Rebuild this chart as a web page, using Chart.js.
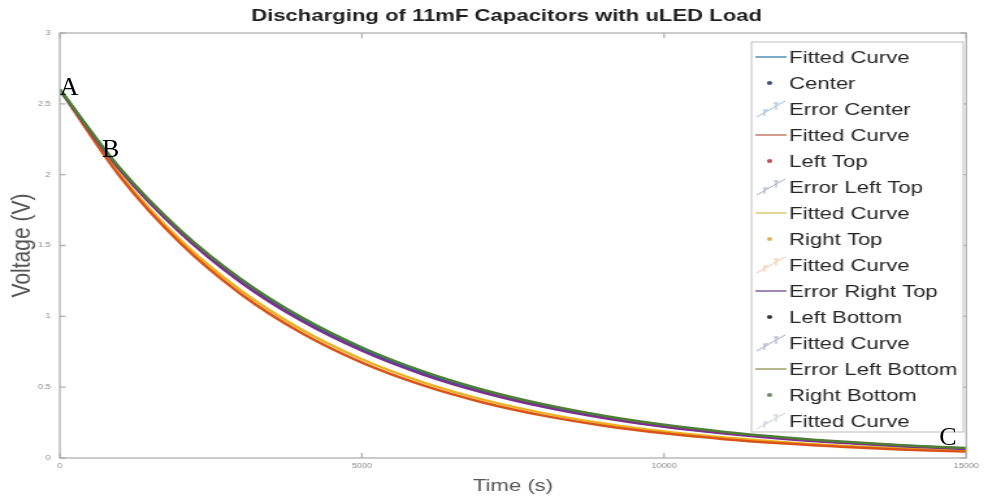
<!DOCTYPE html>
<html>
<head>
<meta charset="utf-8">
<script src="https://cdn.jsdelivr.net/npm/chart.js@4.4.0/dist/chart.umd.min.js"></script>
<style>
  html, body { margin: 0; padding: 0; background: #fff; }
  body { width: 984px; height: 501px; position: relative; overflow: hidden; }
  /* the source figure is stretched sideways, so draw narrow and stretch */
  #wrap { position: absolute; left: 0; top: 0; width: 757px; height: 501px; transform: scaleX(1.3); transform-origin: 0 0; }
  .mark { position: absolute; font-family: "Liberation Serif", "Times New Roman", serif; font-size: 26px; line-height: 1; color: #000; }
</style>
</head>
<body>
<div id="wrap"><canvas id="chart"></canvas></div>
<script>
const STRETCH = 1.3;

const chartTitle = 'Discharging of 11mF Capacitors with uLED Load';

// time in seconds, voltage in volts
const timeSec = [0, 1000, 2000, 3000, 4000, 5000, 6000, 7000, 8000, 9000, 10000, 11000, 12000, 13000, 14000, 15000];
const centerVolts      = [2.60, 2.037, 1.597, 1.251, 0.980, 0.768, 0.602, 0.472, 0.370, 0.290, 0.227, 0.178, 0.139, 0.109, 0.086, 0.067];
const leftTopVolts     = [2.60, 1.984, 1.514, 1.156, 0.882, 0.673, 0.514, 0.392, 0.299, 0.228, 0.174, 0.133, 0.102, 0.078, 0.059, 0.045];
const rightTopVolts    = [2.60, 1.998, 1.536, 1.181, 0.907, 0.697, 0.536, 0.412, 0.317, 0.243, 0.187, 0.144, 0.111, 0.085, 0.065, 0.050];
const leftBottomVolts  = [2.60, 2.031, 1.587, 1.239, 0.968, 0.757, 0.591, 0.462, 0.361, 0.282, 0.220, 0.172, 0.134, 0.105, 0.082, 0.064];
const rightBottomVolts = [2.60, 2.044, 1.606, 1.263, 0.993, 0.780, 0.613, 0.482, 0.379, 0.298, 0.234, 0.184, 0.145, 0.114, 0.089, 0.070];

// legend as it appears in the figure
const legendLabels = ['Fitted Curve', 'Center', 'Error Center', 'Fitted Curve', 'Left Top', 'Error Left Top',
  'Fitted Curve', 'Right Top', 'Fitted Curve', 'Error Right Top', 'Left Bottom', 'Fitted Curve',
  'Error Left Bottom', 'Right Bottom', 'Fitted Curve'];
const legendKinds = ['line', 'dot', 'err', 'line', 'dot', 'err', 'line', 'dot', 'err', 'line', 'dot', 'err', 'line', 'dot', 'err'];
const legendColors = ['#5d93b8', '#34506e', '#9dbdd6', '#c98470', '#c0504d', '#a9aec4', '#e3cf78', '#d9b650',
  '#f0c9a4', '#8a6aa8', '#333333', '#a3abc4', '#a6a472', '#6d8a5e', '#c9cdd8'];

// A, B, C annotations
const markText = ['A', 'B', 'C'];
const markTime = [0, 700, 15000];
const markVolt = [2.60, 2.17, 0.07];
const markShift = [[0, -16], [0, -15], [-27, -24]];

const markEls = markText.map(txt => {
  const el = document.createElement('span');
  el.className = 'mark';
  el.textContent = txt;
  document.body.appendChild(el);
  return el;
});

function toPoints(values) {
  return timeSec.map((t, i) => ({ x: t, y: values[i] }));
}

function series(label, values, color) {
  return {
    label: label,
    data: toPoints(values),
    borderColor: color,
    borderWidth: 2.5,
    pointRadius: 0,
    fill: false,
    cubicInterpolationMode: 'monotone'
  };
}

const boxPlugin = {
  id: 'boxPlugin',
  afterDraw(chart) {
    const ctx = chart.ctx;
    const a = chart.chartArea;
    const xs = chart.scales.x;
    const ys = chart.scales.y;

    // axes frame + inward ticks
    ctx.save();
    ctx.strokeStyle = '#b0b0b0';
    ctx.lineWidth = 1.3;
    ctx.strokeRect(a.left, a.top, a.right - a.left, a.bottom - a.top);
    ctx.beginPath();
    xs.ticks.forEach(t => {
      const px = xs.getPixelForValue(t.value);
      ctx.moveTo(px, a.bottom); ctx.lineTo(px, a.bottom - 5);
      ctx.moveTo(px, a.top); ctx.lineTo(px, a.top + 5);
    });
    ys.ticks.forEach(t => {
      const py = ys.getPixelForValue(t.value);
      ctx.moveTo(a.left, py); ctx.lineTo(a.left + 4.5, py);
      ctx.moveTo(a.right, py); ctx.lineTo(a.right - 4.5, py);
    });
    ctx.stroke();

    // title
    ctx.fillStyle = '#1e1e1e';
    ctx.font = 'bold 17px "Liberation Sans", Arial, sans-serif';
    ctx.textAlign = 'center';
    ctx.textBaseline = 'middle';
    ctx.fillText(chartTitle, (a.left + a.right) / 2 - 5, 16);

    // legend box
    const bx = 578, by = 42, bw = 163, bh = 390;
    ctx.fillStyle = '#fff';
    ctx.fillRect(bx, by, bw, bh);
    ctx.strokeStyle = '#bdbdbd';
    ctx.lineWidth = 1;
    ctx.strokeRect(bx, by, bw, bh);

    ctx.font = '17px "Liberation Sans", Arial, sans-serif';
    ctx.textAlign = 'left';
    legendLabels.forEach((label, i) => {
      const cy = by + 15 + i * 26;
      const col = legendColors[i];
      ctx.strokeStyle = col;
      ctx.fillStyle = col;
      if (legendKinds[i] === 'line') {
        ctx.lineWidth = 1.6;
        ctx.beginPath();
        ctx.moveTo(581, cy); ctx.lineTo(605, cy);
        ctx.stroke();
      } else if (legendKinds[i] === 'dot') {
        ctx.beginPath();
        ctx.arc(592, cy, 2, 0, Math.PI * 2);
        ctx.fill();
      } else {
        ctx.lineWidth = 1;
        ctx.beginPath();
        ctx.moveTo(582, cy + 8);
        ctx.lineTo(589, cy + 3);
        ctx.lineTo(597, cy - 3);
        ctx.lineTo(604, cy - 8);
        ctx.moveTo(587, cy + 1); ctx.lineTo(591, cy + 1);
        ctx.moveTo(588, cy + 1); ctx.lineTo(588, cy + 7);
        ctx.moveTo(595, cy - 6); ctx.lineTo(599, cy - 6);
        ctx.moveTo(597, cy - 6); ctx.lineTo(597, cy + 1);
        ctx.stroke();
      }
      ctx.fillStyle = '#262626';
      ctx.textBaseline = 'middle';
      ctx.fillText(label, 607, cy + 1);
    });
    ctx.restore();

    // A/B/C letters are not stretched in the source, keep them as html on top
    markEls.forEach((el, i) => {
      const px = xs.getPixelForValue(markTime[i]) * STRETCH;
      const py = ys.getPixelForValue(markVolt[i]);
      el.style.left = (px + markShift[i][0]) + 'px';
      el.style.top = (py + markShift[i][1]) + 'px';
    });
  }
};

const tickFont = { family: '"Liberation Sans", Arial, sans-serif', size: 7 };
const titleFont = { family: '"Liberation Sans", Arial, sans-serif', size: 17 };

const chart = new Chart(document.getElementById('chart'), {
  type: 'line',
  data: {
    datasets: [
      series('Right Bottom', rightBottomVolts, '#4f7d35'),
      series('Left Bottom', leftBottomVolts, '#7E2F8E'),
      series('Center', centerVolts, '#0072BD'),
      series('Left Top', leftTopVolts, '#D95319'),
      series('Right Top', rightTopVolts, '#EDB120')
    ]
  },
  options: {
    responsive: true,
    maintainAspectRatio: false,
    animation: false,
    layout: { padding: { top: 33, right: 7, left: 0, bottom: 0 } },
    plugins: {
      legend: { display: false },
      title: { display: false },
      tooltip: { enabled: false }
    },
    scales: {
      x: {
        type: 'linear',
        min: 0,
        max: 15000,
        ticks: { stepSize: 5000, font: tickFont, color: '#8a8a8a', padding: 4, maxRotation: 0, callback: v => String(v) },
        grid: { display: false, drawTicks: false },
        border: { display: false },
        title: { display: true, text: 'Time (s)', font: titleFont, color: '#555', padding: { top: 0, bottom: 4 } },
        afterFit: s => { s.height = 43; }
      },
      y: {
        min: 0,
        max: 3,
        ticks: { stepSize: 0.5, font: tickFont, color: '#8a8a8a', padding: 7, callback: v => String(v) },
        grid: { display: false, drawTicks: false },
        border: { display: false },
        title: { display: true, text: 'Voltage (V)', font: { family: titleFont.family, size: 21 }, color: '#555', padding: { top: 5, bottom: 0 } },
        afterFit: s => { s.width = 46; }
      }
    }
  },
  plugins: [boxPlugin]
});
</script>
</body>
</html>
